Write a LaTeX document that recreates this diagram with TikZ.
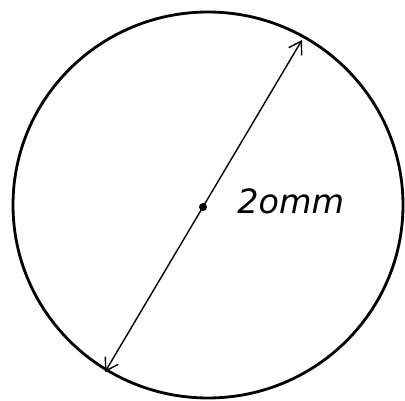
\documentclass[tikz,border=0pt]{standalone}
\usepackage{fontspec}
\setsansfont{DejaVu Sans}
\usepackage{tikz}
\usetikzlibrary{calc, positioning, arrows.meta}

\begin{document}
\begin{tikzpicture}[every node/.style={font=\sffamily}]
        \useasboundingbox (0,0) rectangle (8.1,8.02);
        \draw[line width=1.6pt] (4.16,3.92) ellipse [x radius=3.9cm, y radius=3.86cm];

        \coordinate (top) at (6.04,7.22);
        \coordinate (bot) at (2.10,0.58);
        \coordinate (mid) at (4.06,3.88);

        \draw[{Straight Barb[length=2.4mm, width=3mm]}-{Straight Barb[length=2.4mm, width=3mm]}, line width=0.8pt] (bot) -- (top);
        \fill (mid) circle (0.08);

        \node[anchor=west, font=\sffamily\itshape\fontsize{19}{23}\selectfont, inner sep=0pt] (size) at (4.74,4.0) {2omm};
    \end{tikzpicture}
\end{document}
